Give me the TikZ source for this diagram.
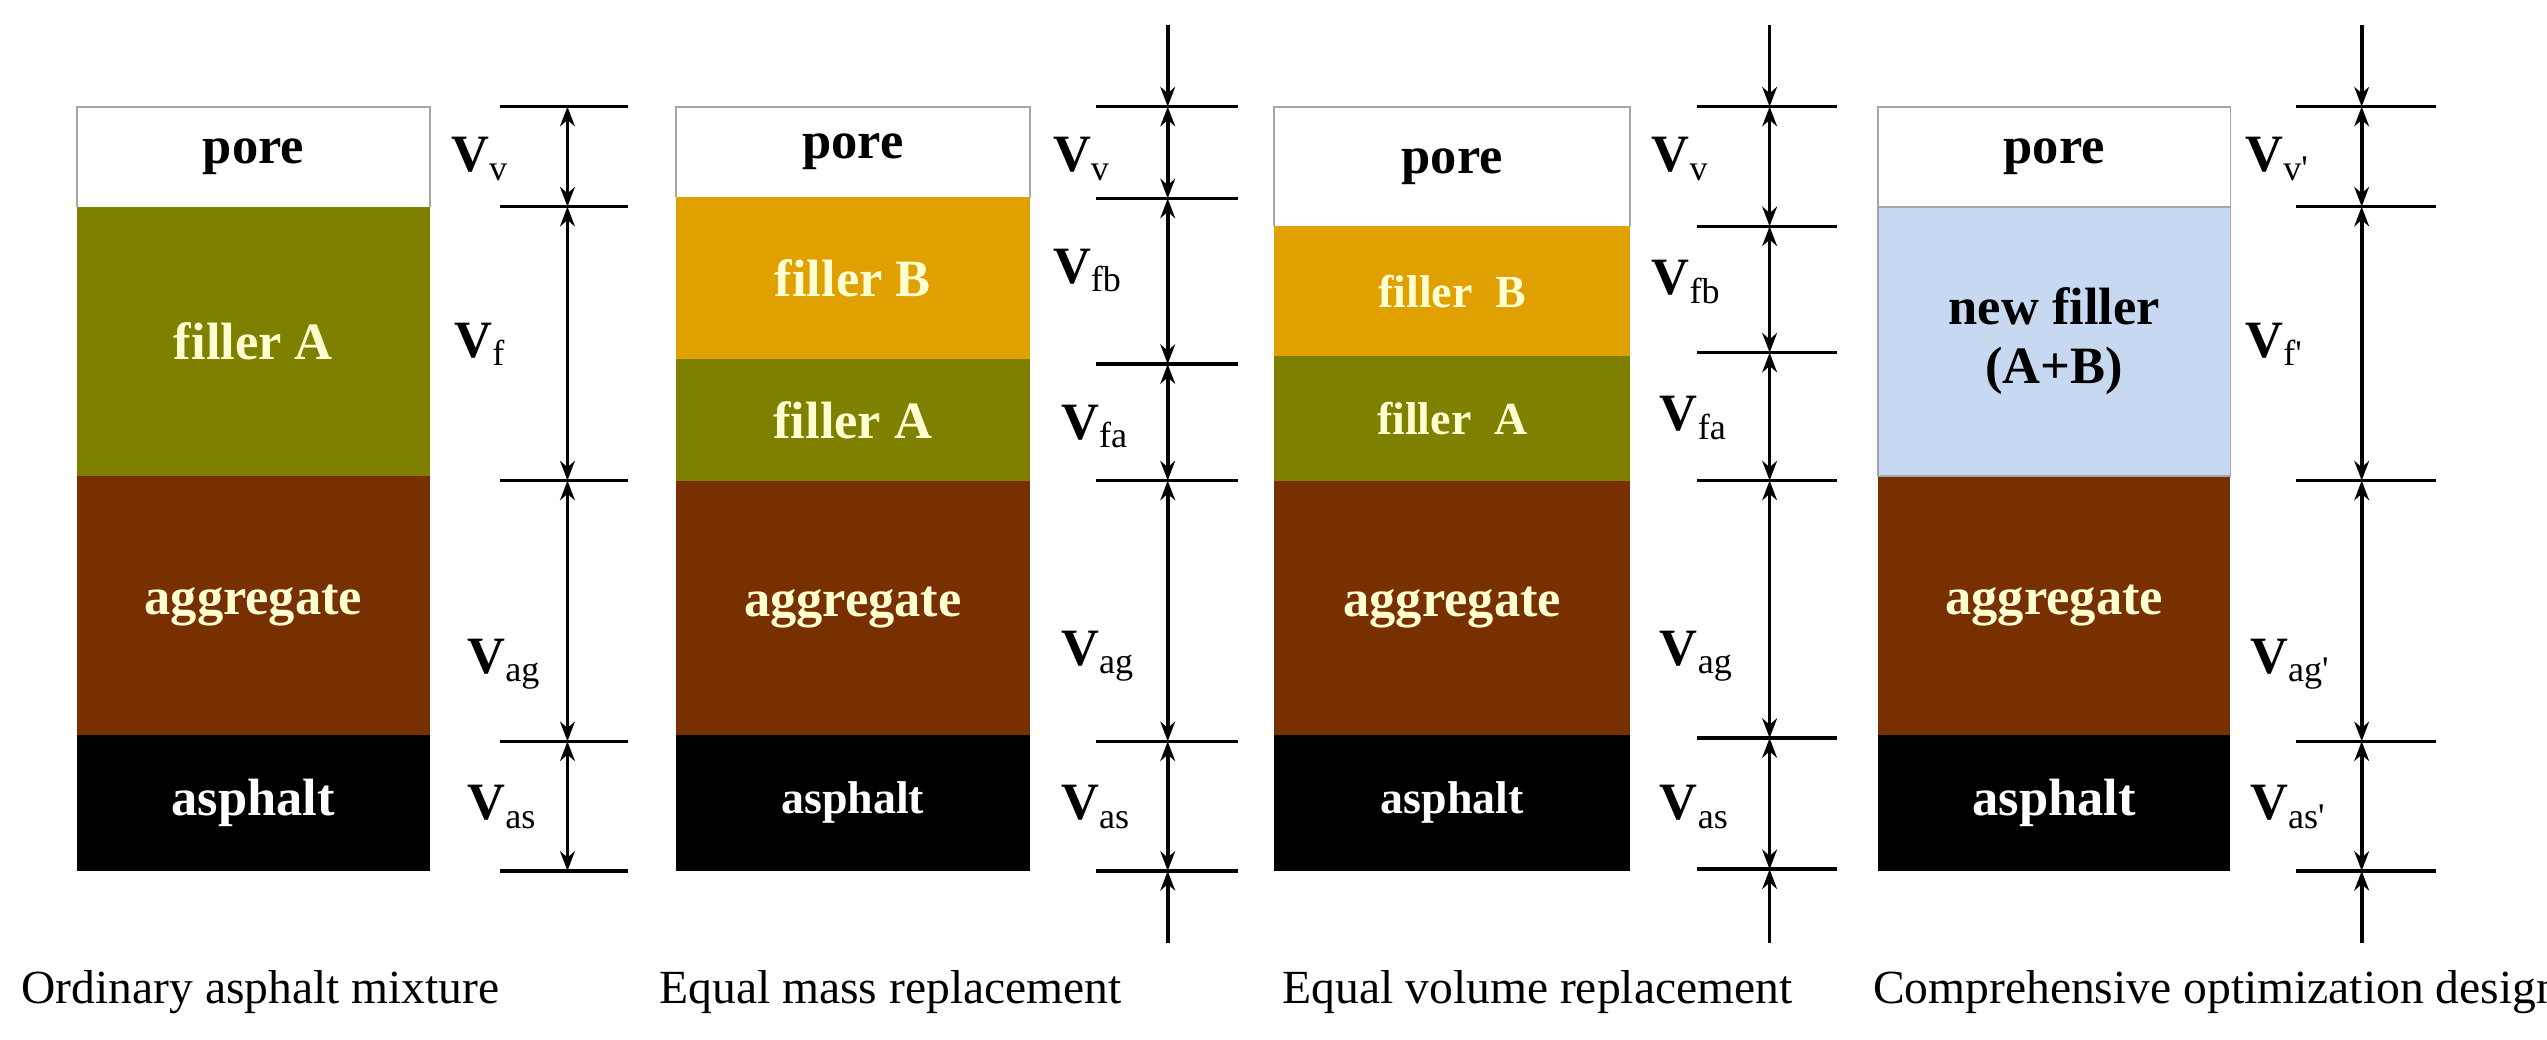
\documentclass[tikz,border=0pt]{standalone}
\usepackage{fontspec}
\setmainfont{Liberation Serif}
\usetikzlibrary{arrows.meta}
\definecolor{olive}{RGB}{128,128,0}
\definecolor{orangeB}{RGB}{224,160,0}
\definecolor{brown}{RGB}{120,48,0}
\definecolor{lblue}{RGB}{198,217,240}
\definecolor{ltext}{RGB}{255,255,210}
\tikzset{
 layer/.style={draw=none,minimum width=#1, inner sep=0pt, font=\bfseries\fontsize{16}{18}\selectfont, align=center, anchor=north west, outer sep=0pt},
 vlab/.style={font=\bfseries\fontsize{16}{18}\selectfont, anchor=west},
 captext/.style={font=\fontsize{14.5}{17}\selectfont, anchor=base west},
 dimln/.style={line width=1.1pt},
 dimarr/.style={line width=1.1pt,{Stealth[length=6pt,width=4.5pt]}-{Stealth[length=6pt,width=4.5pt]}},
 endarr/.style={line width=1.1pt,-{Stealth[length=6pt,width=4.5pt]}},
}
\newcommand{\lay}[7]{% name, x, ytop, ybot, width, fill, text
 \node[layer=#5*0.5pt, minimum height=(#4-#3)*0.5pt, fill=#6] (#1) at (#2,#3) {#7};}
\newcommand{\Vs}[1]{V\textsubscript{\mdseries\fontsize{11}{12}\selectfont #1}}
\begin{document}
\begin{tikzpicture}[x=0.5pt,y=-0.5pt]
\useasboundingbox (0,0) rectangle (1553,634);
% Column 1
\lay{p1}{47}{65}{126}{215}{white}{pore}
\lay{fa1}{47}{126}{290}{215}{olive}{\color{ltext}filler A}
\lay{ag1}{47}{290}{448}{215}{brown}{\color{ltext}aggregate}
\lay{as1}{47}{448}{531}{215}{black}{\color{white}asphalt}
\draw[gray!70,line width=0.6pt] (p1.south west)|-(p1.north east)|-(p1.south east);
\node[vlab] (v1a) at (268,97) {\Vs{v}};
\node[vlab] (v1b) at (270,210) {\Vs{f}};
\node[vlab] (v1c) at (278,405) {\Vs{ag}};
\node[vlab] (v1d) at (278,492) {\Vs{as}};
\foreach \y in {65,126,293,452,531}{\draw[dimln] (305,\y)--(383,\y);}
\foreach \a/\b in {65/126,126/293,293/452,452/531}{\draw[dimarr] (346,\a)--(346,\b);}
% Column 2
\lay{p2}{412}{65}{120}{216}{white}{pore}
\lay{fb2}{412}{120}{219}{216}{orangeB}{\color{ltext}filler B}
\lay{fa2}{412}{219}{293}{216}{olive}{\color{ltext}filler A}
\lay{ag2}{412}{293}{448}{216}{brown}{\color{ltext}aggregate}
\lay{as2}{412}{448}{531}{216}{black}{\color{white}\fontsize{14}{16}\selectfont asphalt}
\draw[gray!70,line width=0.6pt] (p2.south west)|-(p2.north east)|-(p2.south east);
\node[vlab] (v2a) at (635,97) {\Vs{v}};
\node[vlab] (v2b) at (635,165) {\Vs{fb}};
\node[vlab] (v2c) at (640,260) {\Vs{fa}};
\node[vlab] (v2d) at (640,400) {\Vs{ag}};
\node[vlab] (v2e) at (640,492) {\Vs{as}};
\foreach \y in {65,121,222,293,452,531}{\draw[dimln] (668,\y)--(755,\y);}
\foreach \a/\b in {65/121,121/222,222/293,293/452,452/531}{\draw[dimarr] (712,\a)--(712,\b);}
\draw[endarr] (712,15)--(712,65); \draw[endarr] (712,575)--(712,531);
% Column 3
\lay{p3}{777}{65}{138}{217}{white}{pore}
\lay{fb3}{777}{138}{217}{217}{orangeB}{\color{ltext}\fontsize{14}{16}\selectfont filler~~B}
\lay{fa3}{777}{217}{293}{217}{olive}{\color{ltext}\fontsize{14}{16}\selectfont filler~~A}
\lay{ag3}{777}{293}{448}{217}{brown}{\color{ltext}aggregate}
\lay{as3}{777}{448}{531}{217}{black}{\color{white}\fontsize{14}{16}\selectfont asphalt}
\draw[gray!70,line width=0.6pt] (p3.south west)|-(p3.north east)|-(p3.south east);
\node[vlab] (v3a) at (1000,97) {\Vs{v}};
\node[vlab] (v3b) at (1000,172) {\Vs{fb}};
\node[vlab] (v3c) at (1005,255) {\Vs{fa}};
\node[vlab] (v3d) at (1005,400) {\Vs{ag}};
\node[vlab] (v3e) at (1005,492) {\Vs{as}};
\foreach \y in {65,138,215,293,450,530}{\draw[dimln] (1035,\y)--(1120,\y);}
\foreach \a/\b in {65/138,138/215,215/293,293/450,450/530}{\draw[dimarr] (1079,\a)--(1079,\b);}
\draw[endarr] (1079,15)--(1079,65); \draw[endarr] (1079,575)--(1079,530);
% Column 4
\lay{p4}{1145}{65}{126}{215}{white}{pore}
\lay{nf4}{1145}{126}{290}{215}{lblue}{new filler\\(A+B)}
\lay{ag4}{1145}{290}{448}{215}{brown}{\color{ltext}aggregate}
\lay{as4}{1145}{448}{531}{215}{black}{\color{white}asphalt}
\draw[gray!70,line width=0.6pt] (p4.south west)|-(p4.north east)|-(p4.south east);
\draw[gray!70,line width=0.6pt] (nf4.north west) rectangle (nf4.south east);
\node[vlab] (v4a) at (1362,97) {\Vs{v\textquotesingle}};
\node[vlab] (v4b) at (1362,210) {\Vs{f\textquotesingle}};
\node[vlab] (v4c) at (1365,405) {\Vs{ag\textquotesingle}};
\node[vlab] (v4d) at (1365,492) {\Vs{as\textquotesingle}};
\foreach \y in {65,126,293,452,531}{\draw[dimln] (1400,\y)--(1485,\y);}
\foreach \a/\b in {65/126,126/293,293/452,452/531}{\draw[dimarr] (1440,\a)--(1440,\b);}
\draw[endarr] (1440,15)--(1440,65); \draw[endarr] (1440,575)--(1440,531);
% captions
\node[captext] (c1) at (6,612) {Ordinary asphalt mixture};
\node[captext] (c2) at (395,612) {Equal mass replacement};
\node[captext] (c3) at (775,612) {Equal volume replacement};
\node[captext] (c4) at (1135,612) {Comprehensive optimization design};
\end{tikzpicture}
\end{document}
